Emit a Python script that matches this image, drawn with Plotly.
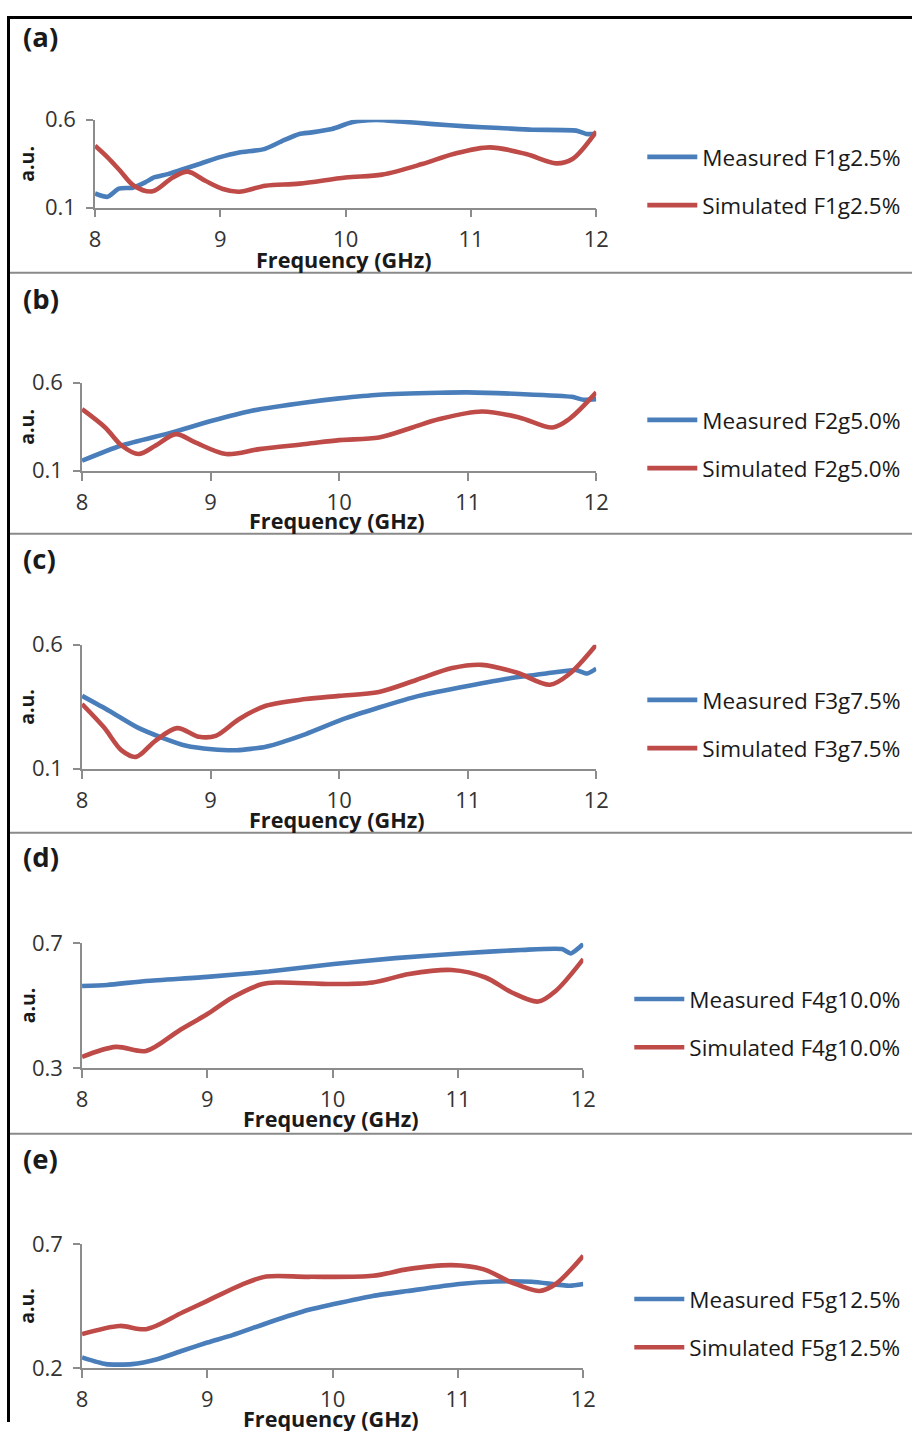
import plotly.graph_objects as go

# The viewer shows the page with a small offset and a ~0.979 zoom; positions below are
# given in reference-picture pixels and converted to figure pixels with that mapping.
ZOOM = 0.979
OFF_X, OFF_Y = 7.0, 15.3
W, H = 925, 1436

# ---------------- data (frequency in GHz, response in a.u.) ----------------
labels = ["(a)", "(b)", "(c)", "(d)", "(e)"]
names_meas = ["Measured F1g2.5%", "Measured F2g5.0%", "Measured F3g7.5%",
              "Measured F4g10.0%", "Measured F5g12.5%"]
names_sim = ["Simulated F1g2.5%", "Simulated F2g5.0%", "Simulated F3g7.5%",
             "Simulated F4g10.0%", "Simulated F5g12.5%"]
x_ticks = [8, 9, 10, 11, 12]
y_ranges = [[0.1, 0.6], [0.1, 0.6], [0.1, 0.6], [0.3, 0.7], [0.2, 0.7]]

a_meas_f = [8.0, 8.1, 8.19, 8.3, 8.4, 8.47, 8.58, 8.83, 8.99, 9.15, 9.35, 9.5, 9.63,
            9.73, 9.89, 10.05, 10.24, 10.43, 10.7, 10.96, 11.23, 11.49, 11.84, 11.92, 12.0]
a_meas_v = [0.181, 0.162, 0.208, 0.214, 0.244, 0.272, 0.291, 0.348, 0.386, 0.414, 0.433,
            0.481, 0.519, 0.528, 0.547, 0.585, 0.598, 0.590, 0.575, 0.562, 0.553, 0.543,
            0.538, 0.519, 0.52]
a_sim_f = [8.0, 8.1, 8.2, 8.31, 8.46, 8.62, 8.74, 8.88, 9.02, 9.15, 9.36, 9.63, 10.0,
           10.29, 10.61, 10.86, 11.15, 11.44, 11.68, 11.81, 12.0]
a_sim_v = [0.452, 0.386, 0.31, 0.225, 0.193, 0.272, 0.305, 0.253, 0.206, 0.191, 0.225,
           0.237, 0.272, 0.288, 0.348, 0.405, 0.443, 0.405, 0.352, 0.377, 0.533]

b_meas_f = [8.0, 8.3, 8.7, 9.01, 9.32, 9.74, 10.0, 10.31, 10.78, 11.0, 11.4, 11.81, 11.9, 12.0]
b_meas_v = [0.157, 0.242, 0.318, 0.384, 0.441, 0.488, 0.511, 0.532, 0.543, 0.545, 0.536,
            0.52, 0.503, 0.507]
b_sim_f = [8.0, 8.18, 8.31, 8.44, 8.57, 8.73, 8.88, 9.12, 9.38, 9.74, 10.0, 10.31, 10.57,
           10.78, 11.11, 11.4, 11.66, 11.79, 12.0]
b_sim_v = [0.45, 0.346, 0.242, 0.195, 0.242, 0.308, 0.261, 0.195, 0.223, 0.252, 0.274,
           0.289, 0.346, 0.394, 0.437, 0.403, 0.346, 0.394, 0.545]

c_meas_f = [8.0, 8.21, 8.43, 8.62, 8.81, 9.01, 9.2, 9.43, 9.74, 10.03, 10.31, 10.62, 11.01,
            11.32, 11.61, 11.84, 11.93, 12.0]
c_meas_v = [0.394, 0.334, 0.267, 0.226, 0.193, 0.179, 0.175, 0.189, 0.24, 0.30, 0.347, 0.394,
            0.435, 0.464, 0.484, 0.498, 0.484, 0.504]
c_sim_f = [8.0, 8.17, 8.31, 8.42, 8.57, 8.74, 8.91, 9.04, 9.22, 9.43, 9.74, 10.0, 10.31,
           10.6, 10.88, 11.11, 11.38, 11.64, 11.79, 12.0]
c_sim_v = [0.361, 0.267, 0.173, 0.148, 0.213, 0.264, 0.229, 0.233, 0.30, 0.354, 0.381, 0.394,
           0.41, 0.458, 0.506, 0.519, 0.488, 0.439, 0.482, 0.6]

d_meas_f = [8.0, 8.2, 8.51, 9.0, 9.49, 10.01, 10.5, 11.01, 11.5, 11.83, 11.9, 12.0]
d_meas_v = [0.562, 0.565, 0.578, 0.591, 0.608, 0.632, 0.651, 0.666, 0.677, 0.68, 0.666, 0.696]
d_sim_f = [8.0, 8.27, 8.51, 8.77, 9.0, 9.2, 9.44, 9.57, 10.0, 10.32, 10.61, 10.95, 11.22,
           11.43, 11.64, 11.78, 12.0]
d_sim_v = [0.335, 0.367, 0.354, 0.418, 0.472, 0.525, 0.568, 0.573, 0.568, 0.573, 0.60,
           0.613, 0.589, 0.541, 0.512, 0.546, 0.648]

e_meas_f = [8.0, 8.19, 8.4, 8.6, 8.8, 9.0, 9.2, 9.49, 9.81, 10.01, 10.32, 10.6, 11.01, 11.3,
            11.59, 11.89, 12.0]
e_meas_v = [0.242, 0.215, 0.215, 0.235, 0.269, 0.302, 0.332, 0.383, 0.434, 0.457, 0.49, 0.51,
            0.538, 0.548, 0.547, 0.531, 0.538]
e_sim_f = [8.0, 8.3, 8.51, 8.8, 9.0, 9.28, 9.47, 9.81, 10.32, 10.6, 10.95, 11.2, 11.43,
           11.65, 11.78, 12.0]
e_sim_v = [0.336, 0.369, 0.356, 0.423, 0.47, 0.537, 0.568, 0.567, 0.571, 0.598, 0.614, 0.598,
           0.544, 0.51, 0.538, 0.652]

meas = [(a_meas_f, a_meas_v), (b_meas_f, b_meas_v), (c_meas_f, c_meas_v),
        (d_meas_f, d_meas_v), (e_meas_f, e_meas_v)]
sims = [(a_sim_f, a_sim_v), (b_sim_f, b_sim_v), (c_sim_f, c_sim_v),
        (d_sim_f, d_sim_v), (e_sim_f, e_sim_v)]

# ---------------- layout geometry (reference pixels) ----------------
plot_x = [(96, 597), (83, 597), (83, 597), (83, 584), (83, 584)]
plot_y = [(119, 207), (382, 470), (644, 768), (942, 1067), (1243, 1367)]
label_y = [36, 298, 558, 856, 1158]
title_cx = [345, 338, 338, 332, 332]
title_y = [259, 520, 819, 1118, 1418]
legend_x = [643, 643, 643, 630, 630]
legend_top = [135, 398, 678, 977, 1277]
separators = [272, 533, 832, 1133]

BLUE = "#4A7EBB"
RED = "#BE4B48"
AXIS = "#8C8C8C"
FONT = "Open Sans"

def px(x):
    return max(0.0, min(1.0, (x - OFF_X) / ZOOM / W))

def py(y):
    return max(0.0, min(1.0, 1 - (y - OFF_Y) / ZOOM / H))

fig = go.Figure()
layout = dict(
    width=W, height=H, margin=dict(l=0, r=0, t=0, b=0),
    paper_bgcolor="white", plot_bgcolor="white",
    font=dict(family=FONT, color="#262626"),
    annotations=[], shapes=[],
)

for i in range(5):
    n = "" if i == 0 else str(i + 1)
    xa, ya = "x" + n, "y" + n
    leg = "legend" + n
    fig.add_trace(go.Scatter(
        x=meas[i][0], y=meas[i][1], name=names_meas[i], mode="lines",
        line=dict(color=BLUE, width=4.6, shape="spline", smoothing=0.6),
        xaxis=xa, yaxis=ya, legend=leg, legendgroup="m" + n))
    fig.add_trace(go.Scatter(
        x=sims[i][0], y=sims[i][1], name=names_sim[i], mode="lines",
        line=dict(color=RED, width=4.6, shape="spline", smoothing=0.9),
        xaxis=xa, yaxis=ya, legend=leg, legendgroup="s" + n))

    x0, x1 = plot_x[i]
    y0, y1 = plot_y[i]
    lo, hi = y_ranges[i]
    layout["xaxis" + n] = dict(
        domain=[px(x0), px(x1)], range=[8, 12], anchor=ya,
        tickmode="array", tickvals=x_ticks, ticktext=[str(t) for t in x_ticks],
        ticks="outside", ticklen=8, tickwidth=1.5, tickcolor=AXIS,
        showline=True, linecolor=AXIS, linewidth=1.5, showgrid=False, zeroline=False,
        tickfont=dict(family=FONT, size=22, color="#333333"), ticklabelstandoff=3,
        fixedrange=True)
    layout["yaxis" + n] = dict(
        domain=[py(y1), py(y0)], range=[lo, hi], anchor=xa,
        tickmode="array", tickvals=[lo, hi], ticktext=[f"{lo:.1f}", f"{hi:.1f}"],
        ticks="outside", ticklen=7, tickwidth=1.5, tickcolor=AXIS,
        showline=True, linecolor=AXIS, linewidth=1.5,
        showgrid=True, gridcolor=AXIS, gridwidth=1.5, zeroline=False,
        tickfont=dict(family=FONT, size=22, color="#333333"), ticklabelstandoff=6,
        fixedrange=True)
    layout[leg] = dict(
        x=px(legend_x[i]), y=py(legend_top[i]), xanchor="left", yanchor="top",
        font=dict(family=FONT, size=22.5, color="#1a1a1a"),
        bgcolor="rgba(0,0,0,0)", traceorder="grouped", tracegroupgap=16,
        itemwidth=50, borderwidth=0)

    layout["annotations"].append(dict(
        text="<b>" + labels[i] + "</b>", x=px(22), y=py(label_y[i]),
        xref="paper", yref="paper", xanchor="left", yanchor="middle",
        showarrow=False, font=dict(family=FONT, size=27.5, color="#1a1a1a")))
    layout["annotations"].append(dict(
        text="<b>a.u.</b>", x=px(28), y=py((y0 + y1) / 2),
        xref="paper", yref="paper", xanchor="center", yanchor="middle",
        textangle=-90, showarrow=False, font=dict(family=FONT, size=19.5, color="#1a1a1a")))
    layout["annotations"].append(dict(
        text="<b>Frequency (GHz)</b>", x=px(title_cx[i]), y=py(title_y[i]),
        xref="paper", yref="paper", xanchor="center", yanchor="middle",
        showarrow=False, font=dict(family=FONT, size=21.6, color="#1a1a1a")))

for s in separators:
    layout["shapes"].append(dict(type="line", xref="paper", yref="paper",
                                 x0=px(10), x1=1, y0=py(s), y1=py(s),
                                 line=dict(color="#8A8A8A", width=2)))
# outer black frame (left edge and top edge)
layout["shapes"].append(dict(type="line", xref="paper", yref="paper",
                             x0=px(9.5), x1=px(9.5), y0=0, y1=1,
                             line=dict(color="black", width=3)))
layout["shapes"].append(dict(type="line", xref="paper", yref="paper",
                             x0=px(8), x1=1, y0=1 - 1.5 / H, y1=1 - 1.5 / H,
                             line=dict(color="black", width=3)))

fig.update_layout(**layout)
fig.write_html("out.html")
